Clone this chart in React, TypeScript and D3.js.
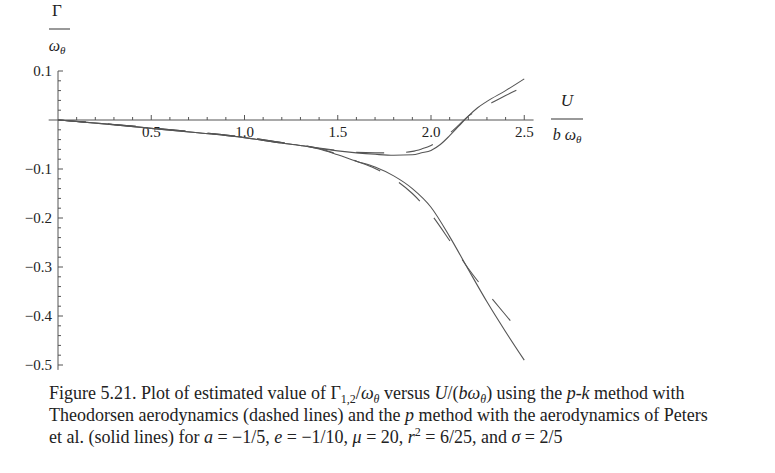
import * as d3 from 'd3';

// tick labels
const uTicks = [0.5, 1.0, 1.5, 2.0, 2.5];
const gTicks = [0.1, -0.1, -0.2, -0.3, -0.4, -0.5];

// p method, Peters aerodynamics (solid)
const solidU1 = [0, 0.25, 0.5, 0.75, 1.0, 1.2, 1.3, 1.4, 1.5, 1.6, 1.7, 1.8, 1.9, 1.95, 2.0, 2.05, 2.1, 2.15, 2.2, 2.25, 2.3, 2.4, 2.5];
const solidG1 = [0, -0.008, -0.017, -0.026, -0.036, -0.047, -0.052, -0.058, -0.063, -0.067, -0.070, -0.072, -0.071, -0.067, -0.062, -0.050, -0.032, -0.012, 0.008, 0.025, 0.038, 0.060, 0.084];
const solidU2 = [0, 0.25, 0.5, 0.75, 1.0, 1.2, 1.3, 1.4, 1.5, 1.6, 1.7, 1.8, 1.9, 2.0, 2.1, 2.2, 2.3, 2.4, 2.5];
const solidG2 = [0, -0.008, -0.017, -0.026, -0.036, -0.047, -0.052, -0.059, -0.071, -0.084, -0.096, -0.114, -0.140, -0.178, -0.238, -0.305, -0.371, -0.432, -0.490];

// p-k method, Theodorsen aerodynamics (dashed)
const dashU1 = [0, 0.25, 0.5, 0.75, 1.0, 1.2, 1.3, 1.4, 1.5, 1.6, 1.7, 1.8, 1.9, 1.95, 2.0, 2.05, 2.1, 2.15, 2.2, 2.25, 2.3, 2.4, 2.5];
const dashG1 = [0, -0.0075, -0.016, -0.025, -0.035, -0.046, -0.051, -0.057, -0.062, -0.066, -0.067, -0.067, -0.064, -0.059, -0.052, -0.040, -0.027, -0.010, 0.008, 0.020, 0.030, 0.050, 0.068];
const dashU2 = [0, 0.25, 0.5, 0.75, 1.0, 1.2, 1.3, 1.4, 1.5, 1.6, 1.7, 1.8, 1.9, 2.0, 2.1, 2.2, 2.3, 2.4, 2.5];
const dashG2 = [0, -0.0075, -0.016, -0.025, -0.035, -0.046, -0.051, -0.058, -0.070, -0.084, -0.099, -0.120, -0.150, -0.192, -0.246, -0.303, -0.352, -0.398, -0.443];

const W = 775;
const H = 473;
const serif = "'Liberation Serif', 'DejaVu Serif', serif";
const ink = '#222';
const lineColor = '#555';

export default function App() {
  const x = d3.scaleLinear().domain([0, 2.5]).range([58, 524.25]);
  const y = d3.scaleLinear().domain([0, 0.1]).range([120, 71]);

  const line = d3.line<[number, number]>()
    .x(d => x(d[0]))
    .y(d => y(d[1]))
    .curve(d3.curveMonotoneX);

  const zip = (us: number[], gs: number[]) => us.map((u, i) => [u, gs[i]] as [number, number]);

  const x0 = x(0);
  const y0 = y(0);

  // minor ticks every 0.1 on U, every 0.02 on Gamma
  const uMinor = d3.range(1, 26).map(i => i / 10);
  const gMinor = d3.range(-25, 6).filter(i => i !== 0).map(i => i / 50);

  return (
    <svg width={W} height={H} style={{ position: 'absolute', left: 0, top: 0, background: '#fff' }}>
      {/* axes */}
      <line x1={x(-0.05)} x2={x(2.55)} y1={y0} y2={y0} stroke={lineColor} strokeWidth={1} />
      <line x1={x0} x2={x0} y1={y(0.1)} y2={y(-0.51)} stroke={lineColor} strokeWidth={1} />
      {uMinor.map(u => {
        const major = Math.abs(u * 2 - Math.round(u * 2)) < 1e-6;
        return <line key={'u' + u} x1={x(u)} x2={x(u)} y1={y0} y2={y0 - (major ? 5 : 3)} stroke={lineColor} strokeWidth={1} />;
      })}
      {gMinor.map(g => {
        const major = Math.abs(g * 10 - Math.round(g * 10)) < 1e-6;
        return <line key={'g' + g} x1={x0} x2={x0 + (major ? 5 : 3)} y1={y(g)} y2={y(g)} stroke={lineColor} strokeWidth={1} />;
      })}
      {uTicks.map(u => (
        <text key={'ul' + u} x={x(u)} y={y0 + 17} textAnchor="middle" fontFamily={serif} fontSize={15} fill={ink}>
          {u.toFixed(1)}
        </text>
      ))}
      {gTicks.map(g => (
        <text key={'gl' + g} x={x0 - 6} y={y(g) + 5} textAnchor="end" fontFamily={serif} fontSize={15} fill={ink}>
          {(g < 0 ? '\u2212' : '') + Math.abs(g).toFixed(1)}
        </text>
      ))}

      {/* axis labels */}
      <text x={57} y={16} textAnchor="middle" fontFamily={serif} fontSize={17} fill={ink}>Γ</text>
      <line x1={49} x2={70} y1={29} y2={29} stroke="#777" strokeWidth={1.5} />
      <text x={57} y={51} textAnchor="middle" fontFamily={serif} fontSize={16} fontStyle="italic" fill={ink}>
        ω<tspan fontSize={11} dy={3}>θ</tspan>
      </text>
      <text x={567} y={106} textAnchor="middle" fontFamily={serif} fontSize={17} fontStyle="italic" fill={ink}>U</text>
      <line x1={551} x2={583} y1={119} y2={119} stroke="#777" strokeWidth={1.5} />
      <text x={567} y={140} textAnchor="middle" fontFamily={serif} fontSize={16} fontStyle="italic" fill={ink}>
        b ω<tspan fontSize={11} dy={3}>θ</tspan>
      </text>

      {/* curves */}
      <path d={line(zip(solidU1, solidG1)) || ''} fill="none" stroke={lineColor} strokeWidth={1.1} />
      <path d={line(zip(solidU2, solidG2)) || ''} fill="none" stroke={lineColor} strokeWidth={1.1} />
      <path d={line(zip(dashU1, dashG1)) || ''} fill="none" stroke={lineColor} strokeWidth={1.1} strokeDasharray="28,22" />
      <path d={line(zip(dashU2, dashG2)) || ''} fill="none" stroke={lineColor} strokeWidth={1.1} strokeDasharray="28,22" />

      {/* caption */}
      <text x={49} y={399} fontFamily={serif} fontSize={18} fill={ink}>
        Figure 5.21. Plot of estimated value of Γ<tspan fontSize={12} dy={4}>1,2</tspan>
        <tspan dy={-4}>/</tspan><tspan fontStyle="italic">ω</tspan><tspan fontSize={12} dy={4} fontStyle="italic">θ</tspan>
        <tspan dy={-4}> versus </tspan><tspan fontStyle="italic">U</tspan>/(<tspan fontStyle="italic">bω</tspan>
        <tspan fontSize={12} dy={4} fontStyle="italic">θ</tspan><tspan dy={-4}>) using the </tspan>
        <tspan fontStyle="italic">p-k</tspan> method with
      </text>
      <text x={49} y={421} fontFamily={serif} fontSize={18} fill={ink}>
        Theodorsen aerodynamics (dashed lines) and the <tspan fontStyle="italic">p</tspan> method with the aerodynamics of Peters
      </text>
      <text x={49} y={443} fontFamily={serif} fontSize={18} fill={ink}>
        et al. (solid lines) for <tspan fontStyle="italic">a</tspan> = −1/5, <tspan fontStyle="italic">e</tspan> = −1/10,{' '}
        <tspan fontStyle="italic">μ</tspan> = 20, <tspan fontStyle="italic">r</tspan>
        <tspan fontSize={12} dy={-7}>2</tspan><tspan dy={7}> = 6/25, and </tspan>
        <tspan fontStyle="italic">σ</tspan> = 2/5
      </text>
    </svg>
  );
}
